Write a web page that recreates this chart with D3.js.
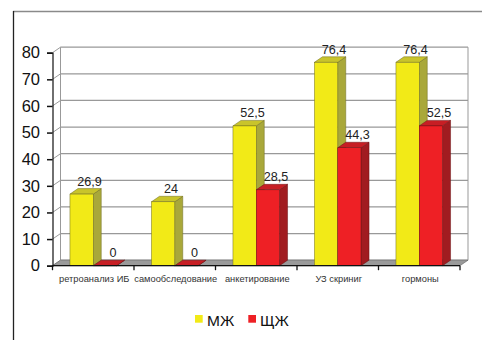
<!DOCTYPE html>
<html><head><meta charset="utf-8">
<script src="https://cdn.jsdelivr.net/npm/d3@7"></script>
<style>body{margin:0;background:#fff}svg{display:block}text{font-family:"Liberation Sans",Arial,sans-serif}</style>
</head><body><svg id="c" width="482" height="340"></svg>
<script>
const categories = ["ретроанализ ИБ","самообследование","анкетирование","УЗ скриниг","гормоны"];
const seriesNames = ["МЖ","ЩЖ"];
const valuesMZ = [26.9, 24, 52.5, 76.4, 76.4];
const valuesSZ = [0, 0, 28.5, 44.3, 52.5];
const valueLabelsMZ = ["26,9","24","52,5","76,4","76,4"];
const valueLabelsSZ = ["0","0","28,5","44,3","52,5"];
const yTicks = [0,10,20,30,40,50,60,70,80];

const colors = {
  "МЖ": {front:"#F2EA17", side:"#A9A83A", top:"#C9C42B", stroke:"#6f6d20"},
  "ЩЖ": {front:"#EE2025", side:"#A11C20", top:"#C71E24", stroke:"#6a1215"}
};
const dx = 8, dy = -5.5;
const svg = d3.select("#c");

// frame
svg.append("line").attr("x1",13).attr("x2",482).attr("y1",11.5).attr("y2",11.5).attr("stroke","#8a8a8a").attr("stroke-width",1.5);
svg.append("line").attr("x1",13.5).attr("x2",13.5).attr("y1",11).attr("y2",340).attr("stroke","#222").attr("stroke-width",1.3);

const x0 = d3.scaleBand().domain(categories).range([52.5, 460]);
const x1 = d3.scaleBand().domain(seriesNames).range([0, x0.bandwidth()]).paddingOuter(0.75);
const y = d3.scaleLinear().domain([0,80]).range([265.7, 52.7]);

const g = svg.append("g");
// back wall gridlines
yTicks.forEach(t=>{
  g.append("line").attr("x1",52.5+dx).attr("x2",460+dx).attr("y1",y(t)+dy).attr("y2",y(t)+dy).attr("stroke","#999").attr("stroke-width",1.2);
  g.append("line").attr("x1",52.5).attr("x2",52.5+dx).attr("y1",y(t)).attr("y2",y(t)+dy).attr("stroke","#999").attr("stroke-width",1);
});
g.append("line").attr("x1",52.5+dx).attr("x2",52.5+dx).attr("y1",y(80)+dy).attr("y2",y(0)+dy).attr("stroke","#999");
g.append("line").attr("x1",460+dx).attr("x2",460+dx).attr("y1",y(80)+dy).attr("y2",y(0)+dy).attr("stroke","#999");
// floor
g.append("polygon").attr("points",[[52.5,y(0)],[460,y(0)],[460+dx,y(0)+dy],[52.5+dx,y(0)+dy]].map(p=>p.join(",")).join(" "))
  .attr("fill","#9a9a9a").attr("stroke","#666").attr("stroke-width",0.6);

// bars
const data = categories.map((c,i)=>({c, vals:[{s:"МЖ",v:valuesMZ[i],l:valueLabelsMZ[i]},{s:"ЩЖ",v:valuesSZ[i],l:valueLabelsSZ[i]}]}));
data.forEach(d=>{
  d.vals.forEach(b=>{
    const xl = x0(d.c)+x1(b.s), w = x1.bandwidth();
    const yt = y(b.v), yb = y(0);
    const col = colors[b.s];
    const bg = g.append("g");
    bg.append("polygon").attr("points",[[xl+w,yb],[xl+w+dx,yb+dy],[xl+w+dx,yt+dy],[xl+w,yt]].map(p=>p.join(",")).join(" "))
      .attr("fill",col.side).attr("stroke",col.stroke).attr("stroke-width",0.5);
    bg.append("polygon").attr("points",[[xl,yt],[xl+dx,yt+dy],[xl+w+dx,yt+dy],[xl+w,yt]].map(p=>p.join(",")).join(" "))
      .attr("fill",col.top).attr("stroke",col.stroke).attr("stroke-width",0.5);
    if (b.v>0) bg.append("rect").attr("x",xl).attr("y",yt).attr("width",w).attr("height",yb-yt)
      .attr("fill",col.front).attr("stroke",col.stroke).attr("stroke-width",0.5);
    svg.append("text").attr("x",xl+w/2+8).attr("y",yt-8.5).attr("text-anchor","middle")
      .attr("font-size",12.6).attr("fill","#222").text(b.l);
  });
});

// y axis
const ya = svg.append("g").attr("transform","translate(52.5,0)")
  .call(d3.axisLeft(y).tickValues(yTicks).tickSize(5.5).tickPadding(7).tickFormat(d3.format("d")));
ya.select(".domain").attr("stroke","#111").attr("stroke-width",1.2);
ya.selectAll(".tick line").attr("stroke","#111").attr("stroke-width",1.5);
ya.selectAll("text").attr("font-size",16.5).attr("fill","#111").attr("font-family","Liberation Sans, Arial, sans-serif");

// x axis
svg.append("line").attr("x1",52.5).attr("x2",460).attr("y1",y(0)).attr("y2",y(0)).attr("stroke","#111").attr("stroke-width",1.2);
const bounds = categories.map(c=>x0(c)).concat([x0.range()[1]]);
bounds.forEach(b=>svg.append("line").attr("x1",b).attr("x2",b).attr("y1",y(0)).attr("y2",y(0)+4.5).attr("stroke","#111").attr("stroke-width",1.3));
categories.forEach(c=>svg.append("text").attr("x",x0(c)+x0.bandwidth()/2+1).attr("y",282).attr("text-anchor","middle")
  .attr("font-size",9.3).attr("fill","#333").text(c));

// legend
const leg = [{s:"МЖ",x:195,tx:207},{s:"ЩЖ",x:248.3,tx:260}];
leg.forEach(l=>{
  svg.append("rect").attr("x",l.x).attr("y",315).attr("width",7.7).attr("height",7.7).attr("fill",colors[l.s].front);
  svg.append("text").attr("x",l.tx).attr("y",325.5).attr("font-size",15.5).attr("fill","#111").text(l.s);
});
</script></body></html>
